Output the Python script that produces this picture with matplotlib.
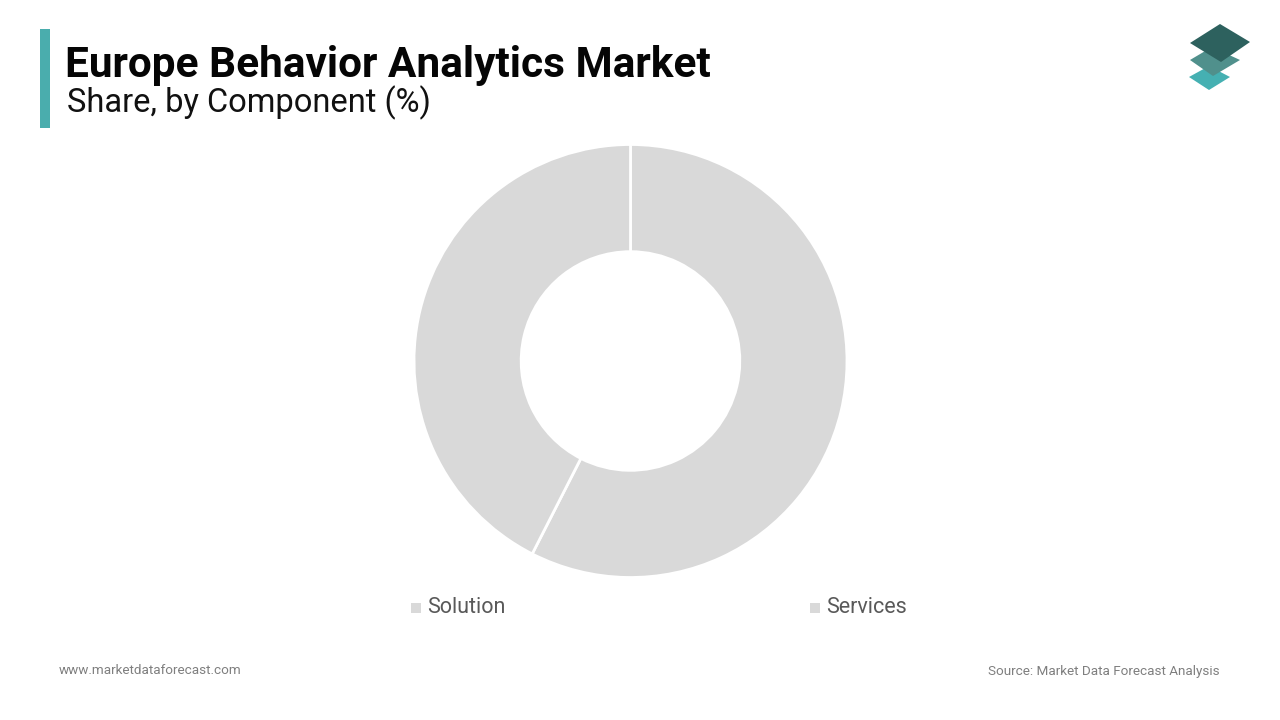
#!/usr/bin/env python3
import matplotlib
matplotlib.use('Agg')
import matplotlib.pyplot as plt
from matplotlib.patches import Polygon, Rectangle

plt.rcParams['font.family'] = ['Roboto', 'DejaVu Sans']

categories = ['Solution', 'Services']
shares = [57.5, 42.5]  # slices have no labels
slice_color = '#d9d9d9'

W, H = 1280, 720
fig = plt.figure(figsize=(W / 100, H / 100), dpi=100, facecolor='white')

# overlay in pixel coordinates for header, logo, legend keys
bg = fig.add_axes([0, 0, 1, 1])
bg.set_xlim(0, W)
bg.set_ylim(H, 0)
bg.axis('off')

# donut
cx, cy, r = 630.5, 361, 216.5
ax = fig.add_axes([(cx - r) / W, 1 - (cy + r) / H, 2 * r / W, 2 * r / H])
ax.pie(shares, startangle=90, counterclock=False, colors=[slice_color] * len(shares),
       radius=1, wedgeprops=dict(width=0.495, edgecolor='white', linewidth=2))
ax.set_xlim(-1, 1)
ax.set_ylim(-1, 1)

# header
bg.add_patch(Rectangle((40, 29), 10, 99, color='#4aadad', lw=0))
bg.text(65, 65, 'Europe Behavior Analytics Market', fontsize=30.5, fontweight='bold',
        color='#050505', va='center', ha='left')
bg.text(67, 103, 'Share, by Component (%)', fontsize=23.5, color='#111111', va='center', ha='left')

# logo, bottom layer first
bg.add_patch(Polygon([(1189, 77), (1209, 66), (1230, 77), (1209, 90)], closed=True,
                     color='#45b0b2', lw=0))
bg.add_patch(Polygon([(1190, 60), (1212, 47), (1240, 60), (1213, 76)], closed=True,
                     color='#50908c', lw=0))
bg.add_patch(Polygon([(1190, 43), (1220, 24), (1250, 42), (1221, 62)], closed=True,
                     color='#2d615e', lw=0))

# legend
key_x = [411, 810]
for x, name in zip(key_x, categories):
    bg.add_patch(Rectangle((x, 603), 10, 10, color=slice_color, lw=0))
    bg.text(x + 16, 607.5, name, fontsize=15.5, color='#595959', va='center', ha='left')

# footer
bg.text(59, 671, 'www.marketdataforecast.com', fontsize=9.7, color='#7f7f7f', va='center', ha='left')
bg.text(1220, 671, 'Source: Market Data Forecast Analysis', fontsize=9.7, color='#7f7f7f',
        va='center', ha='right')

fig.savefig('out.png', dpi=100, facecolor='white')
